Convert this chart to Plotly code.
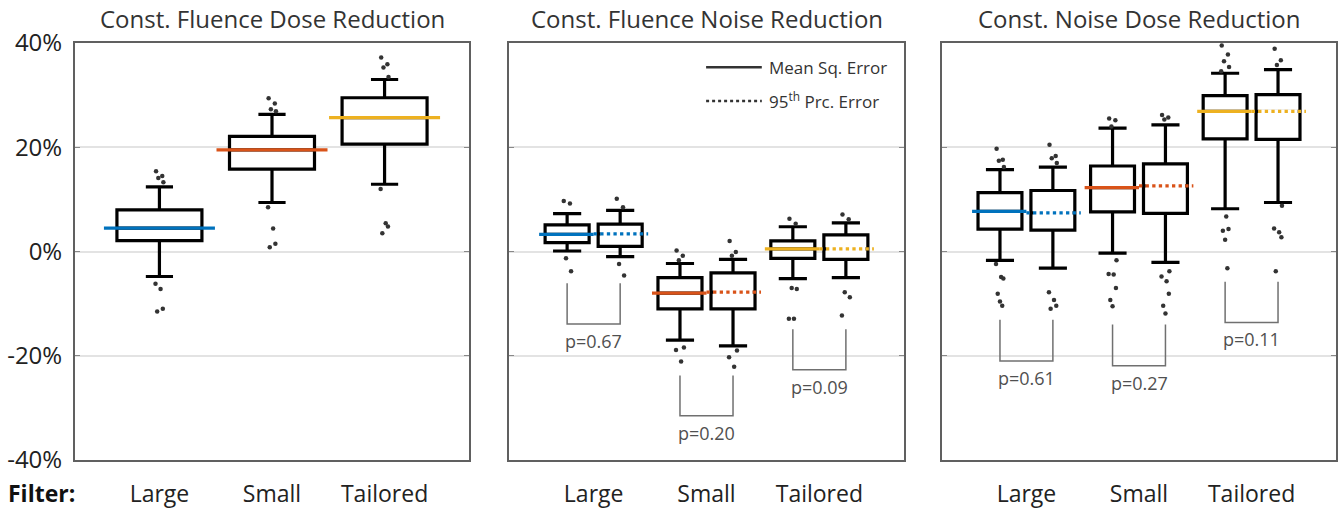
import plotly.graph_objects as go

# ---------------- data (values in %) ----------------
categories = ["Large", "Small", "Tailored"]
titles = ["Const. Fluence Dose Reduction", "Const. Fluence Noise Reduction", "Const. Noise Dose Reduction"]
y_ticks = [-40, -20, 0, 20, 40]
y_ticklabels = ["-40%", "-20%", "0%", "20%", "40%"]
colors = ["#0072BD", "#D95319", "#EDB120"]

# Panel 1 : single metric
p1_low = [-4.8, 9.4, 12.9]
p1_q1 = [2.1, 15.8, 20.6]
p1_mid = [4.5, 19.5, 25.7]
p1_q3 = [8.0, 22.1, 29.5]
p1_high = [12.4, 26.3, 33.0]
p1_out = [[15.4, 14.5, 14.1, 13.3, -6.2, -7.2, -11.0, -11.5],
          [29.4, 28.4, 27.3, 26.9, 8.5, 4.4, 1.5, 0.8],
          [37.2, 35.9, 35.3, 33.5, 12.0, 5.4, 4.8, 3.5]]

# Panel 2 : Mean Sq. Error (mse) vs 95th Prc. Error (p95)
p2_mse_low = [0.1, -17.0, -5.2]
p2_mse_q1 = [1.7, -11.0, -1.3]
p2_mse_mid = [3.3, -8.0, 0.5]
p2_mse_q3 = [5.1, -5.0, 2.05]
p2_mse_high = [7.25, -2.3, 4.75]
p2_mse_out = [[9.7, 9.2, -1.3, -3.8],
              [0.2, -0.8, -1.7, -18.4, -18.9, -21.1],
              [6.3, 5.3, -7.0, -7.2, -12.9, -12.9]]
p2_p95_low = [-1.0, -18.1, -5.0]
p2_p95_q1 = [1.0, -11.0, -1.5]
p2_p95_mid = [3.4, -7.8, 0.5]
p2_p95_q3 = [5.25, -4.1, 3.2]
p2_p95_high = [7.9, -1.5, 5.5]
p2_p95_out = [[10.1, 8.5, -2.4, -4.6],
              [2.0, -0.1, -0.8, -19.0, -20.3, -22.1],
              [7.1, 6.2, -7.8, -8.8, -12.3]]
p2_pvals = ["p=0.67", "p=0.20", "p=0.09"]
p2_br_top = [-6.1, -23.8, -14.9]
p2_br_bot = [-13.9, -31.5, -22.7]

# Panel 3
p3_mse_low = [-1.7, -0.3, 8.2]
p3_mse_q1 = [4.3, 7.6, 21.6]
p3_mse_mid = [7.7, 12.25, 26.9]
p3_mse_q3 = [11.3, 16.4, 29.9]
p3_mse_high = [15.7, 23.65, 34.2]
p3_mse_out = [[19.7, 17.6, 17.4, 16.2, -2.4, -4.9, -5.2, -8.1, -9.6, -10.4],
              [25.5, 25.2, 24.0, -1.7, -4.3, -4.4, -7.0, -9.3, -10.5],
              [39.5, 37.8, 36.5, 35.4, 34.6, 6.7, 4.3, 4.0, 2.25, -3.2]]
p3_p95_low = [-3.2, -2.1, 9.4]
p3_p95_q1 = [4.1, 7.3, 21.5]
p3_p95_mid = [7.4, 12.6, 26.9]
p3_p95_q3 = [11.7, 16.8, 30.1]
p3_p95_high = [16.2, 24.3, 34.9]
p3_p95_out = [[20.5, 18.3, 17.9, 17.0, -7.8, -9.3, -10.4, -11.0],
              [26.2, 25.7, 25.3, -3.8, -4.8, -5.7, -8.1, -10.4, -11.9],
              [38.9, 36.7, 35.8, 8.8, 4.4, 3.7, 2.75, -3.8]]
p3_pvals = ["p=0.61", "p=0.27", "p=0.11"]
p3_br_top = [-13.1, -14.0, -5.8]
p3_br_bot = [-21.0, -21.9, -13.6]

# ---------------- styling ----------------
FONT = "Open Sans"
W, H = 1342, 511
cat_x = [1, 2, 3]
PAIR_OFF = 0.235
JIT = [-0.03, 0.025, -0.01, 0.035, -0.035, 0.01, 0.03, -0.02, 0.0, 0.02]
dom_x = [(75 / W, 469 / W), (509 / W, 904 / W), (942 / W, 1336 / W)]
dom_y = (1 - 460 / H, 1 - 43 / H)

fig = go.Figure()


def add_box(ax, xs, low, q1, mid, q3, high, width, ww):
    fig.add_trace(go.Box(
        x=xs, q1=q1, median=mid, q3=q3, lowerfence=low, upperfence=high,
        width=width, whiskerwidth=ww, boxpoints=False,
        line=dict(color="black", width=3.2), fillcolor="white",
        xaxis="x" + ax, yaxis="y" + ax, showlegend=False, hoverinfo="skip"))


def add_outliers(ax, xs, outs):
    px, py = [], []
    for x, vals in zip(xs, outs):
        for j, v in enumerate(vals):
            px.append(x + JIT[j % len(JIT)])
            py.append(v)
    fig.add_trace(go.Scatter(x=px, y=py, mode="markers",
                             marker=dict(color="#333333", size=4.5),
                             xaxis="x" + ax, yaxis="y" + ax, showlegend=False, hoverinfo="skip"))


def add_hline(ax, x0, x1, y, color, dash="solid", width=3.3):
    fig.add_trace(go.Scatter(x=[x0, x1], y=[y, y], mode="lines",
                             line=dict(color=color, width=width, dash=dash),
                             xaxis="x" + ax, yaxis="y" + ax, showlegend=False, hoverinfo="skip"))


# Panel 1
add_box("", cat_x, p1_low, p1_q1, p1_mid, p1_q3, p1_high, 0.755, 0.32)
add_outliers("", cat_x, p1_out)
for i in range(3):
    add_hline("", cat_x[i] - 0.493, cat_x[i] + 0.493, p1_mid[i], colors[i])

# Panels 2 and 3
panels = [
    ("2", (p2_mse_low, p2_mse_q1, p2_mse_mid, p2_mse_q3, p2_mse_high, p2_mse_out),
     (p2_p95_low, p2_p95_q1, p2_p95_mid, p2_p95_q3, p2_p95_high, p2_p95_out),
     p2_pvals, p2_br_top, p2_br_bot),
    ("3", (p3_mse_low, p3_mse_q1, p3_mse_mid, p3_mse_q3, p3_mse_high, p3_mse_out),
     (p3_p95_low, p3_p95_q1, p3_p95_mid, p3_p95_q3, p3_p95_high, p3_p95_out),
     p3_pvals, p3_br_top, p3_br_bot),
]
BW = 0.39
for ax, mse, p95, pvals, btop, bbot in panels:
    xa = [c - PAIR_OFF for c in cat_x]
    xb = [c + PAIR_OFF for c in cat_x]
    add_box(ax, xa, *mse[:5], BW, 0.64)
    add_box(ax, xb, *p95[:5], BW, 0.64)
    add_outliers(ax, xa, mse[5])
    add_outliers(ax, xb, p95[5])
    for i in range(3):
        # white underlay hides the black median line beneath the dotted line
        add_hline(ax, xb[i] - BW / 2 + 0.02, xb[i] + BW / 2 - 0.02, p95[2][i], "white", width=4.2)
        add_hline(ax, cat_x[i] - 0.483, cat_x[i], mse[2][i], colors[i])
        add_hline(ax, cat_x[i], cat_x[i] + 0.483, p95[2][i], colors[i], dash="dot")
        # significance bracket
        fig.add_trace(go.Scatter(x=[xa[i], xa[i], xb[i], xb[i]],
                                 y=[btop[i], bbot[i], bbot[i], btop[i]], mode="lines",
                                 line=dict(color="#707070", width=1.5),
                                 xaxis="x" + ax, yaxis="y" + ax, showlegend=False, hoverinfo="skip"))
        fig.add_annotation(x=cat_x[i], y=bbot[i], yshift=-3, text=pvals[i], showarrow=False,
                           xref="x" + ax, yref="y" + ax, xanchor="center", yanchor="top",
                           font=dict(family=FONT, size=18, color="#505050"))

# legend (panel 2, top-right)
fig.add_shape(type="line", xref="x2 domain", yref="y2 domain", x0=0.499, x1=0.64, y0=0.942, y1=0.942,
              line=dict(color="#333333", width=2.5))
fig.add_shape(type="line", xref="x2 domain", yref="y2 domain", x0=0.499, x1=0.64, y0=0.861, y1=0.861,
              line=dict(color="#333333", width=2.5, dash="dot"))
fig.add_annotation(xref="x2 domain", yref="y2 domain", x=0.652, y=0.942, text="Mean Sq. Error",
                   showarrow=False, xanchor="left", yanchor="middle",
                   font=dict(family=FONT, size=17, color="#333333"))
fig.add_annotation(xref="x2 domain", yref="y2 domain", x=0.652, y=0.861, text="95<sup>th</sup> Prc. Error",
                   showarrow=False, xanchor="left", yanchor="middle",
                   font=dict(family=FONT, size=17, color="#333333"))

# titles
for k, t in enumerate(titles):
    fig.add_annotation(xref="paper", yref="paper", x=(dom_x[k][0] + dom_x[k][1]) / 2, y=1 - 18 / H,
                       text=t, showarrow=False, xanchor="center", yanchor="middle",
                       font=dict(family=FONT, size=24, color="#333333"))
fig.add_annotation(xref="paper", yref="paper", x=6 / W, y=1 - 493 / H, xanchor="left", yanchor="middle",
                   text="<b>Filter:</b>", showarrow=False, font=dict(family=FONT, size=23, color="#111111"))

layout = dict(width=W, height=H, autosize=False, margin=dict(l=0, r=0, t=0, b=0, pad=0),
              plot_bgcolor="white", paper_bgcolor="white", boxmode="overlay",
              font=dict(family=FONT, size=21, color="#222222"))
for k in range(3):
    sfx = "" if k == 0 else str(k + 1)
    layout["xaxis" + sfx] = dict(domain=dom_x[k], range=[0.25, 3.75], tickvals=cat_x, ticktext=categories,
                                 showgrid=False, zeroline=False, showline=True, mirror=True,
                                 linecolor="#606060", linewidth=2, ticks="", ticklabelstandoff=12,
                                 tickfont=dict(family=FONT, size=23, color="#222222"),
                                 anchor="y" + sfx, fixedrange=True, automargin=False)
    layout["yaxis" + sfx] = dict(domain=dom_y, range=[-40, 40], tickvals=y_ticks, ticktext=y_ticklabels,
                                 showticklabels=(k == 0), showgrid=True, gridcolor="#e3e3e3", gridwidth=1.5,
                                 zeroline=False, showline=True, mirror="ticks", linecolor="#606060",
                                 linewidth=2, ticks="inside", ticklen=5, tickcolor="#888888",
                                 ticklabelstandoff=6,
                                 tickfont=dict(family=FONT, size=24, color="#222222"),
                                 anchor="x" + sfx, fixedrange=True, automargin=False)
fig.update_layout(**layout)

fig.write_html("out.html", config={"responsive": False, "displayModeBar": False},
               post_script="document.body.style.margin='0';document.body.style.overflow='hidden';")
